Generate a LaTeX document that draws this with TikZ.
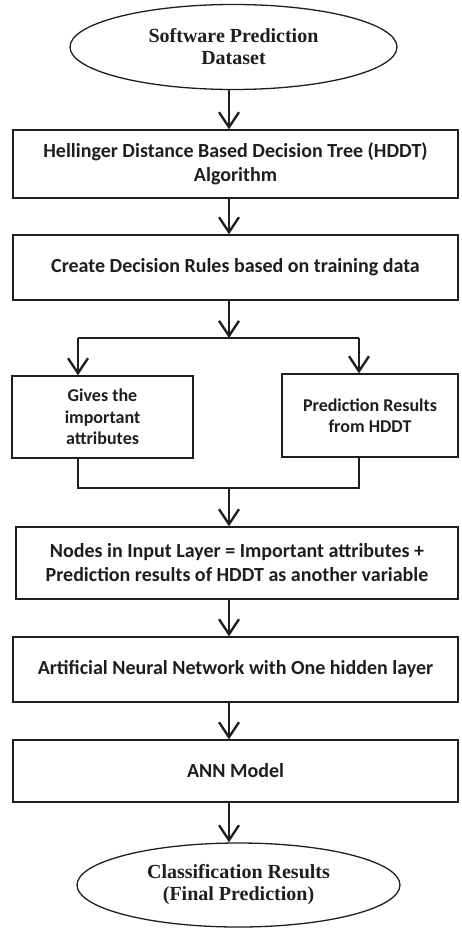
\documentclass[tikz,border=0pt]{standalone}
\usepackage{fontspec}
\setmainfont{Liberation Serif}
\newfontfamily\boxfont{Carlito}
\usetikzlibrary{shapes.geometric,arrows.meta}
\definecolor{ink}{HTML}{1E1E1E}
\begin{document}
\begin{tikzpicture}[x=1pt,y=1pt,
  oval/.style={ellipse,draw=ink,line width=1.3pt,inner sep=0pt,text=ink,align=center,
    font=\fontsize{20}{22}\selectfont\bfseries},
  procbox/.style={rectangle,draw=ink,line width=1.3pt,inner sep=0pt,text=ink,align=center,
    font=\boxfont\fontsize{20}{24}\selectfont\bfseries},
  smallbox/.style={procbox,font=\boxfont\fontsize{18}{21.5}\selectfont\bfseries},
  conn/.style={draw=ink,line width=2.4pt},
  arr/.style={conn,-{Straight Barb[length=15pt,width=20pt]}}]
\useasboundingbox (0,0) rectangle (461,-928);
\coordinate (m) at (229,0);
\node[oval,minimum width=327,minimum height=85] (ds) at (233.5,-47) {Software Prediction\\Dataset};
\node[procbox,minimum width=445,minimum height=68] (hddt) at (235.5,-164) {Hellinger Distance Based Decision Tree (HDDT)\\Algorithm};
\node[procbox,minimum width=445,minimum height=65] (rules) at (235.5,-267.5) {Create Decision Rules based on training data};
\node[smallbox,minimum width=181,minimum height=82] (imp) at (102.5,-417) {Gives the\\important\\attributes};
\node[smallbox,minimum width=176,minimum height=83] (pred) at (370,-415.5) {Prediction Results\\from HDDT};
\node[procbox,minimum width=442,minimum height=72] (input) at (237,-563) {Nodes in Input Layer = Important attributes +\\Prediction results of HDDT as another variable};
\node[procbox,minimum width=445,minimum height=65] (annet) at (235.5,-669.5) {Artificial Neural Network with One hidden layer};
\node[procbox,minimum width=445,minimum height=62] (model) at (235.5,-771) {ANN Model};
\node[oval,minimum width=323,minimum height=84] (res) at (238.5,-885) {Classification Results\\(Final Prediction)};
\coordinate (j1) at (229,-338);
\coordinate (jl) at (78,-338);
\coordinate (jr) at (359,-338);
\coordinate (j2) at (229,-488);
\draw[arr] (ds.south -| m) -- (hddt.north -| m);
\draw[arr] (hddt.south -| m) -- (rules.north -| m);
\draw[arr] (rules.south -| m) -- (j1);
\draw[conn] (jl) -- (jr);
\draw[arr] (jl) -- (jl |- imp.north);
\draw[arr] (jr) -- (jr |- pred.north);
\draw[conn] (jl |- imp.south) -- (jl |- j2) -- (jr |- j2) -- (jr |- pred.south);
\draw[arr] (j2) -- (input.north -| m);
\draw[arr] (input.south -| m) -- (annet.north -| m);
\draw[arr] (annet.south -| m) -- (model.north -| m);
\draw[arr] (model.south -| m) -- (res.north -| m);
\end{tikzpicture}
\end{document}
